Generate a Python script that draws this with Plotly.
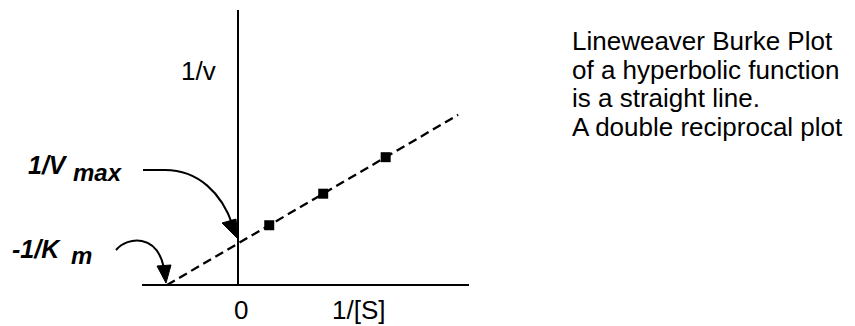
import plotly.graph_objects as go

# ---- data ----
inv_s = [0.44, 1.20, 2.08]          # 1/[S]
inv_v = [1.44, 2.20, 3.08]          # 1/v
inv_vmax = 1.0                       # y intercept 1/Vmax
neg_inv_km = -1.0                    # x intercept -1/Km
line_x_end = 3.1

right_text = ["Lineweaver Burke Plot", "of a hyperbolic function",
              "is a straight line.", "A double reciprocal plot"]

# ---- geometry (pixel frame of the 855x326 page) ----
PAGE_W, PAGE_H = 855, 326
BODY = 8                   # default page margin around the plot div
W, H = PAGE_W - BODY, PAGE_H - BODY
X0PX, Y0PX = 238, 285      # origin pixel on the page
SX, SY = 71.0, 41.5        # pixels per unit


def dx(p):
    return (p - X0PX) / SX


def dy(p):
    return (Y0PX - p) / SY


slope = (0 - inv_vmax) / (neg_inv_km - 0)
fit_x = [neg_inv_km, line_x_end]
fit_y = [inv_vmax + slope * x for x in fit_x]

fig = go.Figure()

# axes
fig.add_trace(go.Scatter(x=[dx(142), dx(469)], y=[0, 0], mode="lines",
                         line=dict(color="black", width=2), hoverinfo="skip"))
fig.add_trace(go.Scatter(x=[0, 0], y=[0, dy(10)], mode="lines",
                         line=dict(color="black", width=2), hoverinfo="skip"))
# fitted dashed line
fig.add_trace(go.Scatter(x=fit_x, y=fit_y, mode="lines",
                         line=dict(color="black", width=2.3, dash="9px,5px")))
# points
fig.add_trace(go.Scatter(x=inv_s, y=inv_v, mode="markers",
                         marker=dict(symbol="square", size=10, color="black")))

FONT = "Liberation Sans, Arial, Helvetica, sans-serif"


def ann(text, xp, yp, size, xanchor="left", bold_italic=False):
    t = f"<b><i>{text}</i></b>" if bold_italic else text
    fig.add_annotation(x=dx(xp), y=dy(yp), text=t, showarrow=False,
                       xanchor=xanchor, yanchor="middle", borderpad=0,
                       font=dict(family=FONT, size=size, color="black"))


ann("1/v", 180, 71, 26)
ann("0", 241, 310, 26, xanchor="center")
ann("1/[S]", 358, 310, 26, xanchor="center")
for i, line in enumerate(right_text):
    ann(line, 571, 41 + i * 28.5, 26)

ann("1/V", 27, 165, 25, bold_italic=True)
ann("max", 72, 172, 24, bold_italic=True)
ann("-1/K", 11, 249, 25, bold_italic=True)
ann("m", 70, 255, 24, bold_italic=True)


def path(pts, closed=False):
    cmd = pts[0]
    s = f"M {dx(cmd[0])},{dy(cmd[1])}"
    for seg in pts[1:]:
        if len(seg) == 2:
            s += f" L {dx(seg[0])},{dy(seg[1])}"
        else:
            s += " C " + " ".join(f"{dx(seg[k])},{dy(seg[k+1])}" for k in (0, 2, 4))
    if closed:
        s += " Z"
    return s


# curved arrow to 1/Vmax
fig.add_shape(type="path", xref="x", yref="y",
              path=path([(143, 170), (165, 170), (198, 170, 222, 193, 233, 226)]),
              line=dict(color="black", width=2))
fig.add_shape(type="path", xref="x", yref="y",
              path=path([(222, 223), (236, 219), (238, 239)], closed=True),
              fillcolor="black", line=dict(color="black", width=1))
# curved arrow to -1/Km
fig.add_shape(type="path", xref="x", yref="y",
              path=path([(116, 250), (128, 236, 157, 234, 164, 268)]),
              line=dict(color="black", width=2))
fig.add_shape(type="path", xref="x", yref="y",
              path=path([(157, 266), (171, 265), (166, 283)], closed=True),
              fillcolor="black", line=dict(color="black", width=1))

fig.update_layout(
    width=W, height=H, margin=dict(l=0, r=0, t=0, b=0),
    paper_bgcolor="white", plot_bgcolor="white", showlegend=False,
    xaxis=dict(range=[dx(BODY), dx(PAGE_W)], visible=False, fixedrange=True),
    yaxis=dict(range=[dy(PAGE_H), dy(BODY)], visible=False, fixedrange=True),
)

fig.write_html("out.html")
